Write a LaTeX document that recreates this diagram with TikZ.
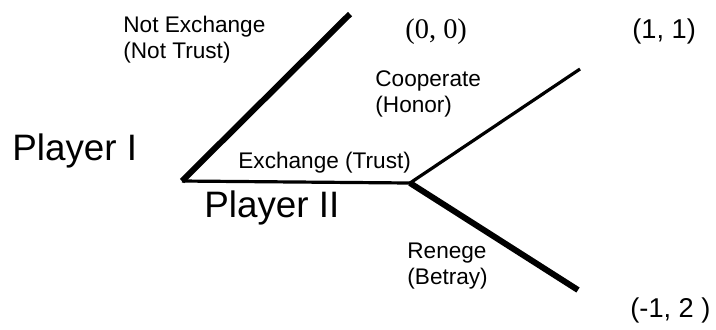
\documentclass[tikz,border=0pt]{standalone}
\usepackage{fontspec}
\setmainfont{Liberation Sans}
\newfontfamily\serifnum{Liberation Serif}
\usepackage{tikz}
\usetikzlibrary{positioning}

\tikzset{
  lbl/.style={anchor=base west,inner sep=0pt,align=left,font=\fontsize{11.3}{12.6}\selectfont},
  plyr/.style={anchor=base west,inner sep=0pt,font=\fontsize{18.4}{22}\selectfont},
  pay/.style={anchor=base west,inner sep=0pt,font=\fontsize{13.6}{16}\selectfont},
  strong/.style={line width=3pt},
  weak/.style={line width=1.6pt}
}

\begin{document}
\begin{tikzpicture}[x=0.5pt,y=-0.5pt]
\useasboundingbox (0,0) rectangle (716,329);
% decision points and ends
\coordinate (root) at (182,181);
\coordinate (second) at (410,183);
\coordinate (noex) at (350,14);
\coordinate (coop) at (580,69);
\coordinate (ren) at (578,290);
% branches
\draw[strong] (root) -- (noex);
\draw[weak] (root) -- (second);
\draw[weak] (second) -- (coop);
\draw[strong] (second) -- (ren);
% players
\node[plyr] (p1) at (12,160) {Player I};
\node[plyr] (p2) at (204,217) {Player II};
% moves (base = last line)
\node[lbl] (notex) at (123,58) {Not Exchange\\(Not Trust)};
\node[lbl] (trust) at (238,168) {Exchange (Trust)};
\node[lbl] (honor) at (375,112) {Cooperate\\(Honor)};
\node[lbl] (betray) at (407,284) {Renege\\(Betray)};
% payoffs
\node[pay,font=\fontsize{14.2}{16}\serifnum] (pa) at (405,38) {(0, 0)};
\node[pay] (pb) at (632,38) {(1, 1)};
\node[pay] (pc) at (630,317) {(-1, 2 )};
\end{tikzpicture}
\end{document}
